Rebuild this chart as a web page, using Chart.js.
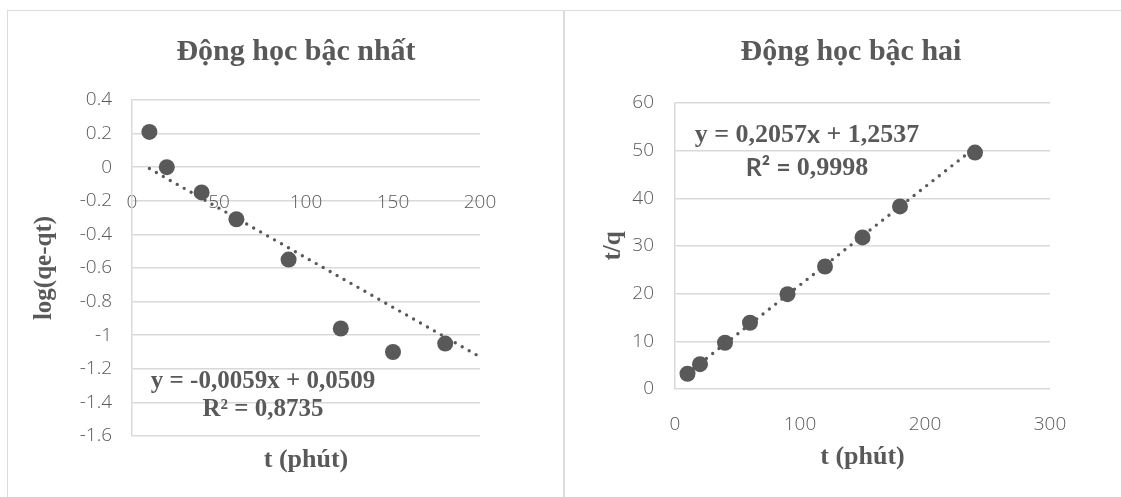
<!DOCTYPE html>
<html>
<head>
<meta charset="utf-8">
<script src="https://cdn.jsdelivr.net/npm/chart.js@4.4.1/dist/chart.umd.min.js"></script>
<style>
  html, body { margin: 0; padding: 0; background: #fff; overflow: hidden; }
  body { width: 1121px; height: 497px; position: relative; }
  .panel { position: absolute; top: 9.5px; height: 540px; border: 1.5px solid #dcdcdc; box-sizing: border-box; }
  #p1 { left: 6.5px; width: 557px; }
  #p2 { left: 564px; width: 600px; }
  canvas { position: absolute; }
  #c1 { left: 8px; top: 11px; }
  #c2 { left: 566px; top: 11px; }
</style>
</head>
<body>
<div class="panel" id="p1"></div>
<div class="panel" id="p2"></div>
<canvas id="c1" width="554" height="486"></canvas>
<canvas id="c2" width="555" height="486"></canvas>
<script>
// ---- First-order kinetics: log(qe - qt) vs t ----
const t1 = [10, 20, 40, 60, 90, 120, 150, 180];
const logQ = [0.21, 0.0, -0.15, -0.31, -0.55, -0.96, -1.10, -1.05];
const fit1 = { slope: -0.0059, intercept: 0.0509, r2: '0,8735', from: 10, to: 200 };
const x1Ticks = [0, 50, 100, 150, 200];
const y1Ticks = [-1.6, -1.4, -1.2, -1, -0.8, -0.6, -0.4, -0.2, 0, 0.2, 0.4];

// ---- Second-order kinetics: t/q vs t ----
const t2 = [10, 20, 40, 60, 90, 120, 150, 180, 240];
const tOverQ = [3.2, 5.2, 9.7, 13.9, 19.9, 25.7, 31.8, 38.3, 49.6];
const fit2 = { slope: 0.2057, intercept: 1.2537, r2: '0,9998', from: 10, to: 240 };
const x2Ticks = [0, 100, 200, 300];
const y2Ticks = [0, 10, 20, 30, 40, 50, 60];

const INK = '#595959';
const GRID = '#d9d9d9';
const SERIF = '"Liberation Serif", "Times New Roman", serif';
const SANS = '"Open Sans", "DejaVu Sans", sans-serif';
const tickFont = { family: SANS, size: 19, weight: '300' };

const pts = (xs, ys) => xs.map((x, i) => ({ x, y: ys[i] }));
const fitLine = f => [f.from, f.to].map(x => ({ x, y: f.slope * x + f.intercept }));
const setTicks = list => scale => { scale.ticks = list.map(v => ({ value: v })); };
const fmt = v => String(Math.round(v * 10) / 10);

// Draws a line of text made of runs with different fonts, centred on (cx, cy)
function drawRuns(ctx, runs, cx, cy) {
  let total = 0;
  runs.forEach(r => { ctx.font = r.font; r.w = ctx.measureText(r.text).width; total += r.w; });
  let x = cx - total / 2;
  ctx.textAlign = 'left';
  ctx.textBaseline = 'middle';
  ctx.fillStyle = INK;
  runs.forEach(r => { ctx.font = r.font; ctx.fillText(r.text, x, cy + (r.dy || 0)); x += r.w; });
}

const textPlugin = {
  id: 'freeText',
  afterDraw(chart, args, opts) {
    const ctx = chart.ctx;
    ctx.save();
    opts.lines.forEach(l => drawRuns(ctx, l.runs, l.x, l.y));
    ctx.restore();
  }
};

const sb = s => `bold ${s}px ${SERIF}`;
const sansB = s => `bold ${s}px "Lato", ${SANS}`;

function datasets(xs, ys, f) {
  return [
    { data: fitLine(f), showLine: true, pointRadius: 0, borderColor: INK, borderWidth: 3.4,
      borderDash: [0, 8], borderCapStyle: 'round', fill: false, order: 0 },
    { data: pts(xs, ys), showLine: false, pointRadius: 8, pointHoverRadius: 8,
      backgroundColor: INK, borderColor: INK, borderWidth: 0, order: 1 }
  ];
}

new Chart(document.getElementById('c1'), {
  type: 'scatter',
  data: { datasets: datasets(t1, logQ, fit1) },
  plugins: [textPlugin],
  options: {
    responsive: false, animation: false, events: [],
    layout: { padding: { left: 0, right: 82, top: 89, bottom: 0 } },
    plugins: {
      legend: { display: false }, tooltip: { enabled: false },
      freeText: { lines: [
        { x: 288, y: 41, runs: [{ text: 'Động học bậc nhất', font: sb(30) }] },
        { x: 255, y: 371, runs: [{ text: 'y = -0,0059x + 0,0509', font: sb(25) }] },
        { x: 255, y: 399, runs: [{ text: 'R² = ' + fit1.r2, font: sb(25) }] }
      ] }
    },
    scales: {
      x: {
        type: 'linear', position: { y: 0 }, min: 0, max: 200,
        afterBuildTicks: setTicks(x1Ticks),
        grid: { display: false }, border: { display: false },
        ticks: { font: tickFont, color: INK, padding: 16, maxRotation: 0, callback: fmt }
      },
      y: {
        type: 'linear', min: -1.6, max: 0.4,
        afterBuildTicks: setTicks(y1Ticks),
        afterFit: s => { s.width = 124; },
        grid: { color: GRID, lineWidth: 1.5, drawTicks: false },
        border: { color: GRID, width: 1.5 },
        ticks: { font: tickFont, color: INK, padding: 20, callback: fmt },
        title: { display: true, text: 'log(qe-qt)', color: INK, font: { family: SERIF, size: 25, weight: 'bold' }, padding: { top: 22, bottom: 0 } }
      },
      xt: {
        type: 'linear', position: 'bottom', min: 0, max: 200,
        afterFit: s => { s.height = 61; },
        grid: { display: false }, border: { display: false }, ticks: { display: false },
        title: { display: true, text: 't (phút)', color: INK, font: { family: SERIF, size: 26, weight: 'bold' }, padding: { top: 0, bottom: 21 } }
      }
    }
  }
});

new Chart(document.getElementById('c2'), {
  type: 'scatter',
  data: { datasets: datasets(t2, tOverQ, fit2) },
  plugins: [textPlugin],
  options: {
    responsive: false, animation: false, events: [],
    layout: { padding: { left: 0, right: 71, top: 92, bottom: 0 } },
    plugins: {
      legend: { display: false }, tooltip: { enabled: false },
      freeText: { lines: [
        { x: 285, y: 41, runs: [{ text: 'Động học bậc hai', font: sb(30) }] },
        { x: 241, y: 124, runs: [
          { text: 'y = 0,2057', font: sb(26) },
          { text: 'x', font: sansB(25) },
          { text: ' + 1,2537', font: sb(26) }
        ] },
        { x: 241, y: 157, runs: [
          { text: 'R² = ', font: sansB(25) },
          { text: fit2.r2, font: sb(26) }
        ] }
      ] }
    },
    scales: {
      x: {
        type: 'linear', position: 'bottom', min: 0, max: 300,
        afterBuildTicks: setTicks(x2Ticks),
        afterFit: s => { s.height = 108; },
        grid: { display: false }, border: { display: false },
        ticks: { font: tickFont, color: INK, padding: 16, maxRotation: 0 },
        title: { display: true, text: 't (phút)', color: INK, font: { family: SERIF, size: 26, weight: 'bold' }, padding: { top: 0, bottom: 24 } }
      },
      y: {
        type: 'linear', min: 0, max: 60,
        afterBuildTicks: setTicks(y2Ticks),
        afterFit: s => { s.width = 109; },
        grid: { color: GRID, lineWidth: 1.5, drawTicks: false },
        border: { color: GRID, width: 1.5 },
        ticks: { font: tickFont, color: INK, padding: 21 },
        title: { display: true, text: 't/q', color: INK, font: { family: SERIF, size: 25, weight: 'bold' }, padding: { top: 33, bottom: 0 } }
      }
    }
  }
});
</script>
</body>
</html>
